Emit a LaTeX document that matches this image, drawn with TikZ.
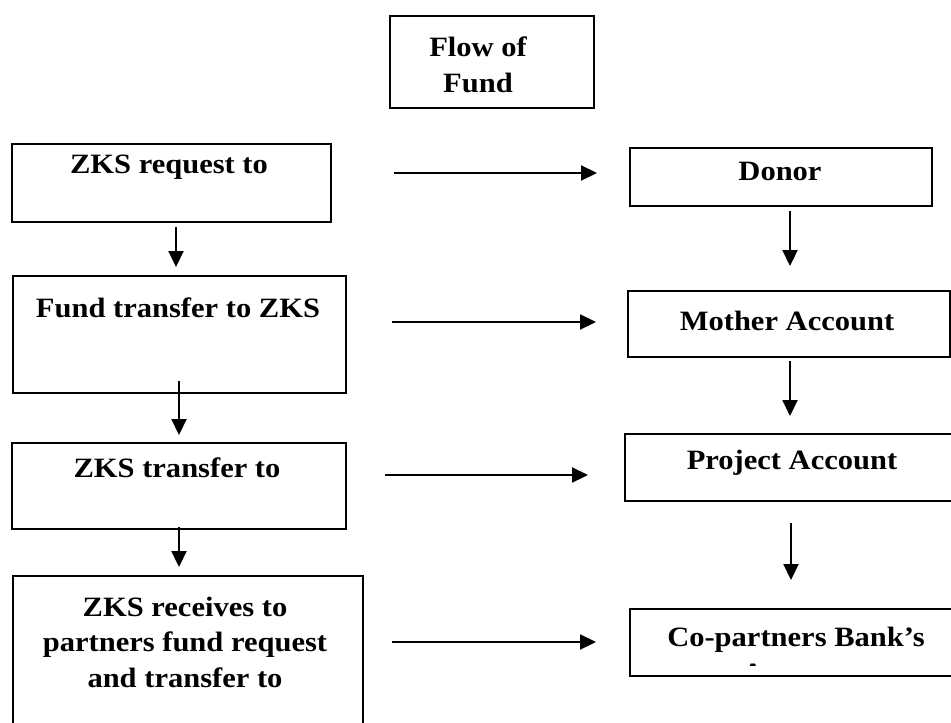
\documentclass[tikz,border=0pt]{standalone}
\usepackage{fontspec}
\setmainfont{Liberation Serif}[FakeStretch=1.09]
\usetikzlibrary{arrows.meta}
\begin{document}
\begin{tikzpicture}[x=1pt,y=-1pt,
  box/.style={draw,line width=1.7pt,inner sep=0pt,anchor=north west},
  lbl/.style={align=center,inner sep=0pt,font=\bfseries\fontsize{28}{35.5}\selectfont},
  arr/.style={line width=2.2pt,-{Triangle[length=16pt,width=15pt]}}]
\useasboundingbox (0,0) rectangle (951,723);
\clip (0,0) rectangle (951,723);
% title
\node[box,minimum width=204pt,minimum height=92pt] (title) at (389,15) {};
\node[lbl] (titlet) at (478,65) {Flow of\\Fund};
% left column
\node[box,minimum width=319pt,minimum height=78pt] (l1) at (11,143) {};
\node[lbl] (l1t) at (169,167) {ZKS request to};
\node[box,minimum width=333pt,minimum height=117pt] (l2) at (12,275) {};
\node[lbl] (l2t) at (178,308) {Fund transfer to ZKS};
\node[box,minimum width=334pt,minimum height=86pt] (l3) at (11,442) {};
\node[lbl] (l3t) at (177,468) {ZKS transfer to};
\node[box,minimum width=350pt,minimum height=180pt] (l4) at (12,575) {};
\node[lbl] (l4t) at (185,642) {ZKS receives to\\partners fund request\\and transfer to};
% right column
\node[box,minimum width=302pt,minimum height=58pt] (r1) at (629,147) {};
\node[lbl] (r1t) at (780,171) {Donor};
\node[box,minimum width=322pt,minimum height=66pt] (r2) at (627,290) {};
\node[lbl] (r2t) at (787,321) {Mother Account};
\node[box,minimum width=340pt,minimum height=67pt] (r3) at (624,433) {};
\node[lbl] (r3t) at (792,463) {Project Account};
\node[box,minimum width=340pt,minimum height=67pt] (r4) at (629,608) {};
\begin{scope}
  \clip (629,608) rectangle (951,665);
  \node[lbl,anchor=north] (r4t) at (796,627) {Co-partners Bank's\\Account};
\end{scope}
% vertical connectors
\coordinate (v1s) at (176,227); \coordinate (v1e) at (176,267);
\coordinate (v2s) at (179,381); \coordinate (v2e) at (179,435);
\coordinate (v3s) at (179,527); \coordinate (v3e) at (179,567);
\coordinate (w1s) at (790,211); \coordinate (w1e) at (790,266);
\coordinate (w2s) at (790,361); \coordinate (w2e) at (790,416);
\coordinate (w3s) at (791,523); \coordinate (w3e) at (791,580);
\draw[arr] (v1s) -- (v1e);
\draw[arr] (v2s) -- (v2e);
\draw[arr] (v3s) -- (v3e);
\draw[arr] (w1s) -- (w1e);
\draw[arr] (w2s) -- (w2e);
\draw[arr] (w3s) -- (w3e);
% horizontal connectors
\coordinate (h1s) at (394,173); \coordinate (h1e) at (597,173);
\coordinate (h2s) at (392,322); \coordinate (h2e) at (596,322);
\coordinate (h3s) at (385,475); \coordinate (h3e) at (588,475);
\coordinate (h4s) at (392,642); \coordinate (h4e) at (596,642);
\draw[arr] (h1s) -- (h1e);
\draw[arr] (h2s) -- (h2e);
\draw[arr] (h3s) -- (h3e);
\draw[arr] (h4s) -- (h4e);
\end{tikzpicture}
\end{document}
